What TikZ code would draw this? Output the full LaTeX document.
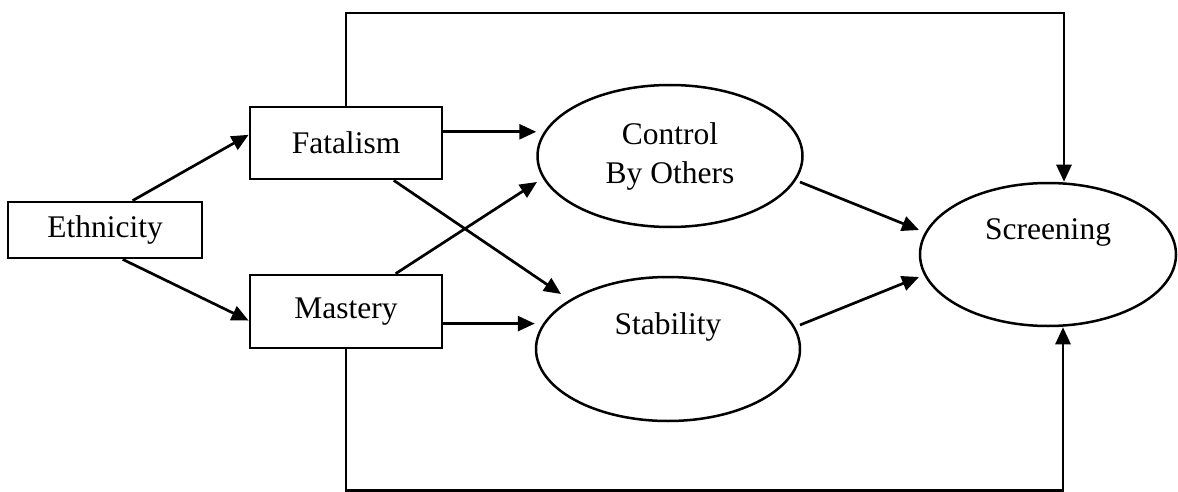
\documentclass[tikz,border=0pt]{standalone}
\usepackage{fontspec}
\setmainfont{Liberation Serif}
\usetikzlibrary{arrows.meta,shapes.geometric,calc}
\tikzstyle{arrow} = [line width=2.7pt,-{Triangle[length=17pt,width=15pt]}]
\tikzstyle{varbox} = [draw,line width=2.7pt,rectangle,inner sep=0pt,font=\fontsize{31.5}{39}\selectfont]
\tikzstyle{latent} = [draw,line width=2.5pt,ellipse,inner sep=0pt,align=center,font=\fontsize{31.5}{39}\selectfont]
\tikzstyle{caption} = [inner sep=0pt,font=\fontsize{31.5}{39}\selectfont]

\begin{document}
\begin{tikzpicture}[x=1pt,y=-1pt]
	\useasboundingbox (0,0) rectangle (1178,492);
	% observed variables
	\node[varbox,minimum width=194pt,minimum height=56pt] (eth) at (105,230) {Ethnicity};
	\node[varbox,minimum width=192pt,minimum height=72pt] (fat) at (346,143) {Fatalism};
	\node[varbox,minimum width=192pt,minimum height=73pt] (mas) at (346,311.5) {Mastery};
	% latent variables
	\node[latent,minimum width=265pt,minimum height=142pt] (ctrl) at (670,156) {Control\\By Others};
	\node[latent,minimum width=264pt,minimum height=144pt] (stab) at (668,349) {};
	\node[caption] (stabtext) at ($(stab.center)+(0,-22)$) {Stability};
	\node[latent,minimum width=256pt,minimum height=143pt] (scr) at (1048,254.5) {};
	\node[caption] (scrtext) at ($(scr.center)+(0,-22)$) {Screening};
	% rails of the two long paths
	\coordinate (toprail) at (700,13);
	\coordinate (botrail) at (700,490.5);
	\coordinate (scrtop) at ($(scr.north)+(16,0)$);
	\coordinate (scrbot) at ($(scr.south)+(15,0)$);
	% paths
	\draw[arrow] ($(eth.north west)!0.64!(eth.north east)$) -- ($(fat.north west)!0.39!(fat.south west)$);
	\draw[arrow] ($(eth.south west)!0.59!(eth.south east)$) -- ($(mas.north west)!0.62!(mas.south west)$);
	\coordinate (f1) at ($(fat.north east)!0.35!(fat.south east)$);
	\draw[arrow] (f1) -- (f1 -| ctrl.west);
	\draw[arrow] ($(fat.south west)!0.745!(fat.south east)$) -- ($(stab.center)+(-107,-55)$);
	\draw[arrow] ($(mas.north west)!0.755!(mas.north east)$) -- ($(ctrl.center)+(-133,26)$);
	\coordinate (m1) at ($(mas.north east)!0.66!(mas.south east)$);
	\draw[arrow] (m1) -- (m1 -| stab.west);
	\draw[arrow] ($(ctrl.center)+(130,26)$) -- ($(scr.center)+(-129,-24.5)$);
	\draw[arrow] ($(stab.center)+(132,-24)$) -- ($(scr.center)+(-129,22.5)$);
	\draw[arrow] (fat.north) |- (toprail) -| (scrtop);
	\draw[arrow] (mas.south) |- (botrail) -| (scrbot);
\end{tikzpicture}
\end{document}
